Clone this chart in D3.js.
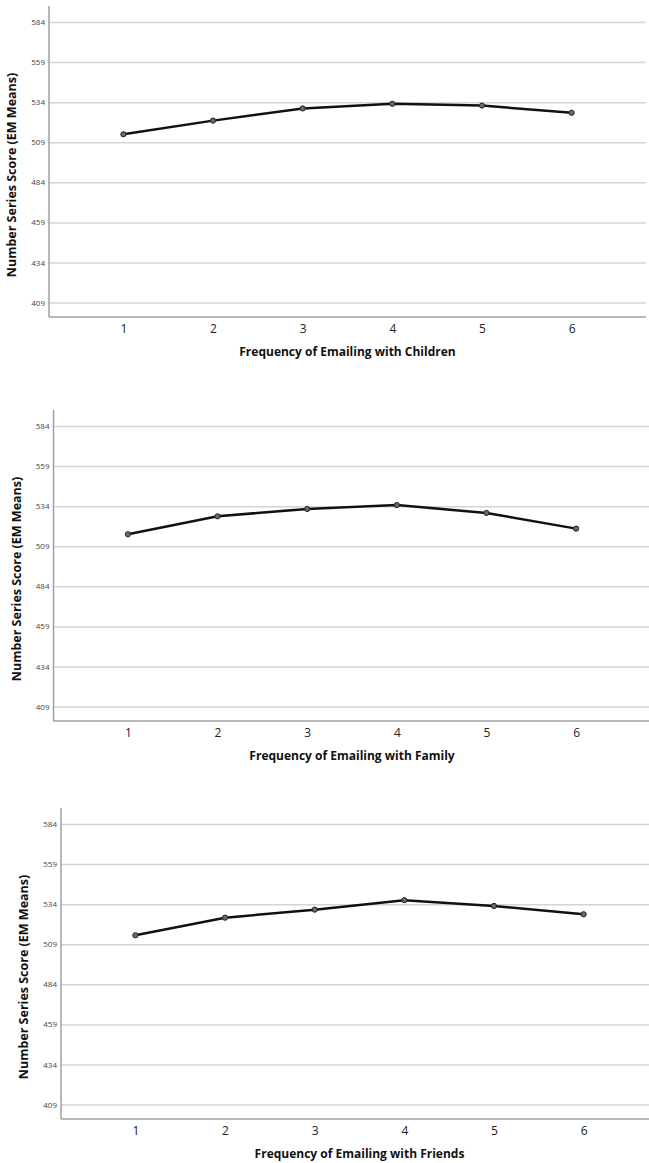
<!DOCTYPE html>
<html>
<head>
<meta charset="utf-8">
<script src="https://cdn.jsdelivr.net/npm/d3@7"></script>
<style>
  body { margin: 0; background: #fff; }
  .grid line { stroke: #d4d4d4; stroke-width: 1.5; }
  .grid path { display: none; }
  .y-axis path, .y-axis line, .x-axis line { display: none; }
  .y-axis text { font-family: "Open Sans", sans-serif; font-size: 8px; fill: #444; }
  .x-axis path { display: none; }
  .x-axis text { font-family: "Open Sans", sans-serif; font-size: 12px; fill: #222; }
  .axis-title { font-family: "Open Sans", sans-serif; font-weight: bold; fill: #111; }
</style>
</head>
<body>
<svg id="canvas" width="649" height="1163"></svg>
<script>
// frequency categories on the x axis
var categories = [1, 2, 3, 4, 5, 6];
var yTicks = [409, 434, 459, 484, 509, 534, 559, 584];

// EM means
var childrenMeans = [514.0, 522.5, 530.1, 533.0, 531.9, 527.4];
var familyMeans = [516.5, 527.7, 532.3, 534.7, 529.8, 520.0];
var friendsMeans = [514.6, 525.6, 530.6, 536.5, 532.9, 527.7];

var xTitles = ["Frequency of Emailing with Children",
               "Frequency of Emailing with Family",
               "Frequency of Emailing with Friends"];
var yTitle = "Number Series Score (EM Means)";

var panels = [
  {values: childrenMeans, title: xTitles[0], top: 6, left: 49},
  {values: familyMeans, title: xTitles[1], top: 410, left: 53.5},
  {values: friendsMeans, title: xTitles[2], top: 808, left: 61}
];

var plotWidth = 597,
    plotHeight = 311;

var svg = d3.select("#canvas");

panels.forEach(function(p) {
  var g = svg.append("g")
    .attr("transform", "translate(" + p.left + "," + p.top + ")");

  var xScale = d3.scalePoint()
    .domain(categories)
    .range([0, plotWidth])
    .padding(0.83);

  var yScale = d3.scaleLinear()
    .domain([400, 594])
    .range([plotHeight, 0]);

  // gridlines
  g.append("g")
    .attr("class", "grid")
    .call(d3.axisLeft(yScale).tickValues(yTicks).tickSize(-plotWidth).tickFormat(""));

  // y tick labels
  g.append("g")
    .attr("class", "y-axis")
    .call(d3.axisLeft(yScale).tickValues(yTicks).tickSize(0).tickPadding(4));

  // x tick labels
  g.append("g")
    .attr("class", "x-axis")
    .attr("transform", "translate(0," + plotHeight + ")")
    .call(d3.axisBottom(xScale).tickSize(0).tickPadding(7));

  // axis frame lines
  g.append("line")
    .attr("x1", 0).attr("x2", 0)
    .attr("y1", 0).attr("y2", plotHeight)
    .attr("stroke", "#a0a0a0").attr("stroke-width", 1.5);
  g.append("line")
    .attr("x1", 0).attr("x2", plotWidth)
    .attr("y1", plotHeight).attr("y2", plotHeight)
    .attr("stroke", "#a0a0a0").attr("stroke-width", 1.5);

  var line = d3.line()
    .x(function(d, i) { return xScale(categories[i]); })
    .y(function(d) { return yScale(d); });

  g.append("path")
    .datum(p.values)
    .attr("fill", "none")
    .attr("stroke", "#111")
    .attr("stroke-width", 2.5)
    .attr("d", line);

  g.selectAll("circle")
    .data(p.values)
    .enter().append("circle")
    .attr("cx", function(d, i) { return xScale(categories[i]); })
    .attr("cy", function(d) { return yScale(d); })
    .attr("r", 2.6)
    .attr("fill", "#6a6a6a")
    .attr("stroke", "#222")
    .attr("stroke-width", 1);

  // axis titles
  g.append("text")
    .attr("class", "axis-title")
    .attr("text-anchor", "middle")
    .attr("font-size", 12)
    .attr("transform", "translate(" + (xScale(categories[0]) + xScale(categories[5])) / 2 + "," + (plotHeight + 39) + ")")
    .text(p.title);

  g.append("text")
    .attr("class", "axis-title")
    .attr("text-anchor", "middle")
    .attr("font-size", 12.5)
    .attr("transform", "translate(-33," + 169 + ") rotate(-90)")
    .text(yTitle);
});
</script>
</body>
</html>
